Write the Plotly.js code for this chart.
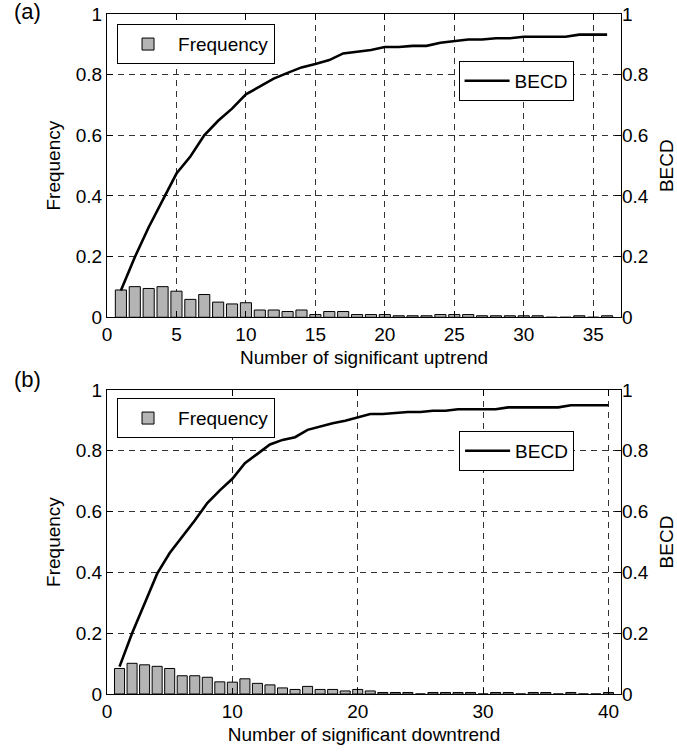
<!DOCTYPE html>
<html><head><meta charset="utf-8">
<script src="https://cdn.plot.ly/plotly-3.0.1.min.js"></script>
<style>body{margin:0;background:#fff}</style></head>
<body><div id="chart" style="width:677px;height:754px"></div>
<script>
// Panel (a): uptrend
const upX = [1,2,3,4,5,6,7,8,9,10,11,12,13,14,15,16,17,18,19,20,21,22,23,24,25,26,27,28,29,30,31,32,33,34,35,36];
const upFreq = [0.090,0.101,0.095,0.101,0.086,0.059,0.075,0.050,0.044,0.048,0.024,0.024,0.019,0.024,0.009,0.019,0.019,0.009,0.009,0.009,0.005,0.005,0.005,0.009,0.009,0.009,0.005,0.005,0.005,0.005,0.005,0,0,0.005,0,0.005];
const upBECD = [0.088,0.198,0.297,0.385,0.474,0.530,0.600,0.648,0.688,0.735,0.762,0.787,0.806,0.824,0.835,0.848,0.870,0.876,0.881,0.891,0.891,0.895,0.895,0.905,0.911,0.916,0.916,0.920,0.920,0.925,0.925,0.925,0.925,0.932,0.932,0.932];
// Panel (b): downtrend
const downX = [1,2,3,4,5,6,7,8,9,10,11,12,13,14,15,16,17,18,19,20,21,22,23,24,25,26,27,28,29,30,31,32,33,34,35,36,37,38,39,40];
const downFreq = [0.084,0.101,0.096,0.091,0.084,0.060,0.060,0.055,0.040,0.039,0.050,0.035,0.030,0.020,0.015,0.025,0.015,0.015,0.010,0.015,0.010,0.005,0.005,0.005,0,0.005,0.005,0.005,0.005,0,0.005,0.005,0,0.005,0.005,0,0.005,0,0,0.005];
const downBECD = [0.090,0.200,0.298,0.396,0.464,0.516,0.571,0.628,0.670,0.708,0.759,0.790,0.821,0.836,0.845,0.869,0.880,0.891,0.899,0.910,0.921,0.921,0.925,0.928,0.928,0.932,0.932,0.937,0.937,0.937,0.937,0.943,0.943,0.943,0.943,0.943,0.950,0.950,0.950,0.950];
const yTicks = [0,0.2,0.4,0.6,0.8,1];
const upTicks = [0,5,10,15,20,25,30,35];
const downTicks = [0,10,20,30,40];

const FONT = {family:'"Liberation Sans", Arial, sans-serif', size:19, color:'#000'};
const barStyle = {color:'#b4b4b4', line:{color:'#000', width:1}};
const lineStyle = {color:'#000', width:2.6};

const traces = [
  {type:'bar', x:upX, y:upFreq, name:'Frequency', xaxis:'x', yaxis:'y', legend:'legend', marker:barStyle, width:0.8},
  {type:'scatter', mode:'lines', x:upX, y:upBECD, name:'BECD', xaxis:'x', yaxis:'y2', legend:'legend2', line:lineStyle},
  {type:'bar', x:downX, y:downFreq, name:'Frequency', xaxis:'x2', yaxis:'y3', legend:'legend3', marker:barStyle, width:0.8},
  {type:'scatter', mode:'lines', x:downX, y:downBECD, name:'BECD', xaxis:'x2', yaxis:'y4', legend:'legend4', line:lineStyle}
];

const gridCommon = {showgrid:true, gridcolor:'#333', griddash:'6px,5px', gridwidth:1, zeroline:false,
  showline:true, linecolor:'#000', linewidth:1, ticks:'inside', ticklen:6, tickcolor:'#000', tickfont:FONT};
const xCommon = Object.assign({}, gridCommon, {mirror:'ticks'});
const yLeft = Object.assign({}, gridCommon, {mirror:true, range:[0,1], tickvals:yTicks, title:{text:'Frequency', font:FONT, standoff:10}});
const yRight = {side:'right', range:[0,1], tickvals:yTicks, showgrid:false, zeroline:false,
  ticks:'inside', ticklen:6, tickcolor:'#000', tickfont:FONT, showline:false, title:{text:'BECD', font:FONT, standoff:12}};

const legBox = {bgcolor:'#fff', bordercolor:'#000', borderwidth:1, font:FONT, xanchor:'left', yanchor:'top'};

const layout = {
  width:677, height:754,
  margin:{l:107, r:56, t:14, b:60},
  paper_bgcolor:'#fff', plot_bgcolor:'#fff',
  font:FONT,
  bargap:0.2,
  xaxis: Object.assign({}, xCommon, {anchor:'y', domain:[0,1], range:[0,37], tickvals:upTicks, title:{text:'Number of significant uptrend', font:FONT, standoff:6}}),
  yaxis: Object.assign({}, yLeft, {anchor:'x', domain:[0.554,1]}),
  yaxis2: Object.assign({}, yRight, {anchor:'x', overlaying:'y'}),
  xaxis2: Object.assign({}, xCommon, {anchor:'y3', domain:[0,1], range:[0,41], tickvals:downTicks, title:{text:'Number of significant downtrend', font:FONT, standoff:6}}),
  yaxis3: Object.assign({}, yLeft, {anchor:'x2', domain:[0,0.447]}),
  yaxis4: Object.assign({}, yRight, {anchor:'x2', overlaying:'y3'}),
  legend: Object.assign({}, legBox, {x:0.0195, y:0.985, itemwidth:50}),
  legend2: Object.assign({}, legBox, {x:0.684, y:0.931, itemwidth:45}),
  legend3: Object.assign({}, legBox, {x:0.0195, y:0.435, itemwidth:50}),
  legend4: Object.assign({}, legBox, {x:0.685, y:0.387, itemwidth:45}),
  showlegend:true,
  annotations:[
    {text:'(a)', xref:'paper', yref:'paper', x:-0.185, y:1.003, xanchor:'left', yanchor:'middle', showarrow:false, font:Object.assign({}, FONT, {size:22})},
    {text:'(b)', xref:'paper', yref:'paper', x:-0.185, y:0.463, xanchor:'left', yanchor:'middle', showarrow:false, font:Object.assign({}, FONT, {size:22})}
  ]
};

Plotly.newPlot('chart', traces, layout, {displayModeBar:false, staticPlot:true});
</script>
</body></html>
